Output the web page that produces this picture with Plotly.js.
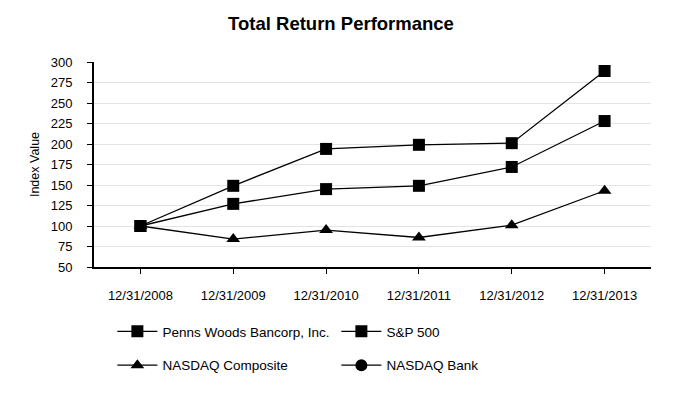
<!DOCTYPE html>
<html>
<head>
<meta charset="utf-8">
<script src="https://cdn.plot.ly/plotly-3.0.1.min.js"></script>
<style>html,body{margin:0;padding:0;background:#fff;}#chart{width:682px;height:400px;}
g.traces{opacity:1 !important;}</style>
</head>
<body>
<div id="chart"></div>
<script>
const categories = ["12/31/2008", "12/31/2009", "12/31/2010", "12/31/2011", "12/31/2012", "12/31/2013"];
const pennsWoods = [100, 149, 194, 199, 201, 289];
const sp500 = [100, 127, 145, 149, 172, 228];
const nasdaqComposite = [100, 84, 95, 86, 101, 143];
const nasdaqBank = [null, null, null, null, null, null];
const yTicks = [50, 75, 100, 125, 150, 175, 200, 225, 250, 275, 300];

const font = "Liberation Sans, Arial, sans-serif";
function trace(name, y, symbol, legend) {
  return {
    type: "scatter", mode: "lines+markers", name: name,
    x: categories.slice(0, y.length), y: y,
    line: {color: "#000", width: 1.3},
    marker: {symbol: symbol, size: 12, color: "#000"},
    legend: legend, cliponaxis: false
  };
}
const data = [
  trace("Penns Woods Bancorp, Inc.", pennsWoods, "square", "legend"),
  trace("S&P 500", sp500, "square", "legend"),
  trace("NASDAQ Composite", nasdaqComposite, "triangle-up", "legend2"),
  Object.assign(trace("NASDAQ Bank", nasdaqBank, "circle", "legend2"), {visible: "legendonly"})
];
const legendBase = {
  orientation: "h", xanchor: "left", yanchor: "middle",
  font: {family: font, size: 13.5, color: "#000"},
  entrywidth: 169, itemwidth: 40, bgcolor: "rgba(0,0,0,0)", traceorder: "normal"
};
const layout = {
  width: 682, height: 400,
  margin: {l: 94, r: 31, t: 62, b: 133},
  paper_bgcolor: "#fff", plot_bgcolor: "#fff",
  font: {family: font, color: "#000"},
  title: {text: "<b>Total Return Performance</b>", font: {family: font, size: 18.5, color: "#000"}, x: 0.5, xanchor: "center", y: 0.942, yanchor: "middle"},
  showlegend: true,
  legend: Object.assign({}, legendBase, {x: 0.033, y: -0.315}),
  legend2: Object.assign({}, legendBase, {x: 0.033, y: -0.48}),
  xaxis: {
    type: "category", categoryarray: categories, range: [-0.5, 5.5],
    showline: true, linecolor: "#000", linewidth: 2, showgrid: false, zeroline: false,
    ticks: "outside", ticklen: 5, tickwidth: 1, tickcolor: "#000", ticklabelstandoff: 10,
    tickfont: {family: font, size: 13, color: "#000"}, fixedrange: true
  },
  yaxis: {
    range: [50, 300], tickvals: yTicks, ticktext: yTicks.map(String),
    showline: true, linecolor: "#000", linewidth: 2,
    showgrid: true, gridcolor: "#e3e3e3", gridwidth: 1, zeroline: false,
    ticks: "outside", ticklen: 5, tickwidth: 1, tickcolor: "#000", ticklabelstandoff: 12,
    tickfont: {family: font, size: 13, color: "#000"},
    title: {text: "Index Value", font: {family: font, size: 12.5, color: "#000"}, standoff: 8},
    fixedrange: true
  }
};
Plotly.newPlot("chart", data, layout, {displayModeBar: false, staticPlot: true});
</script>
</body>
</html>
